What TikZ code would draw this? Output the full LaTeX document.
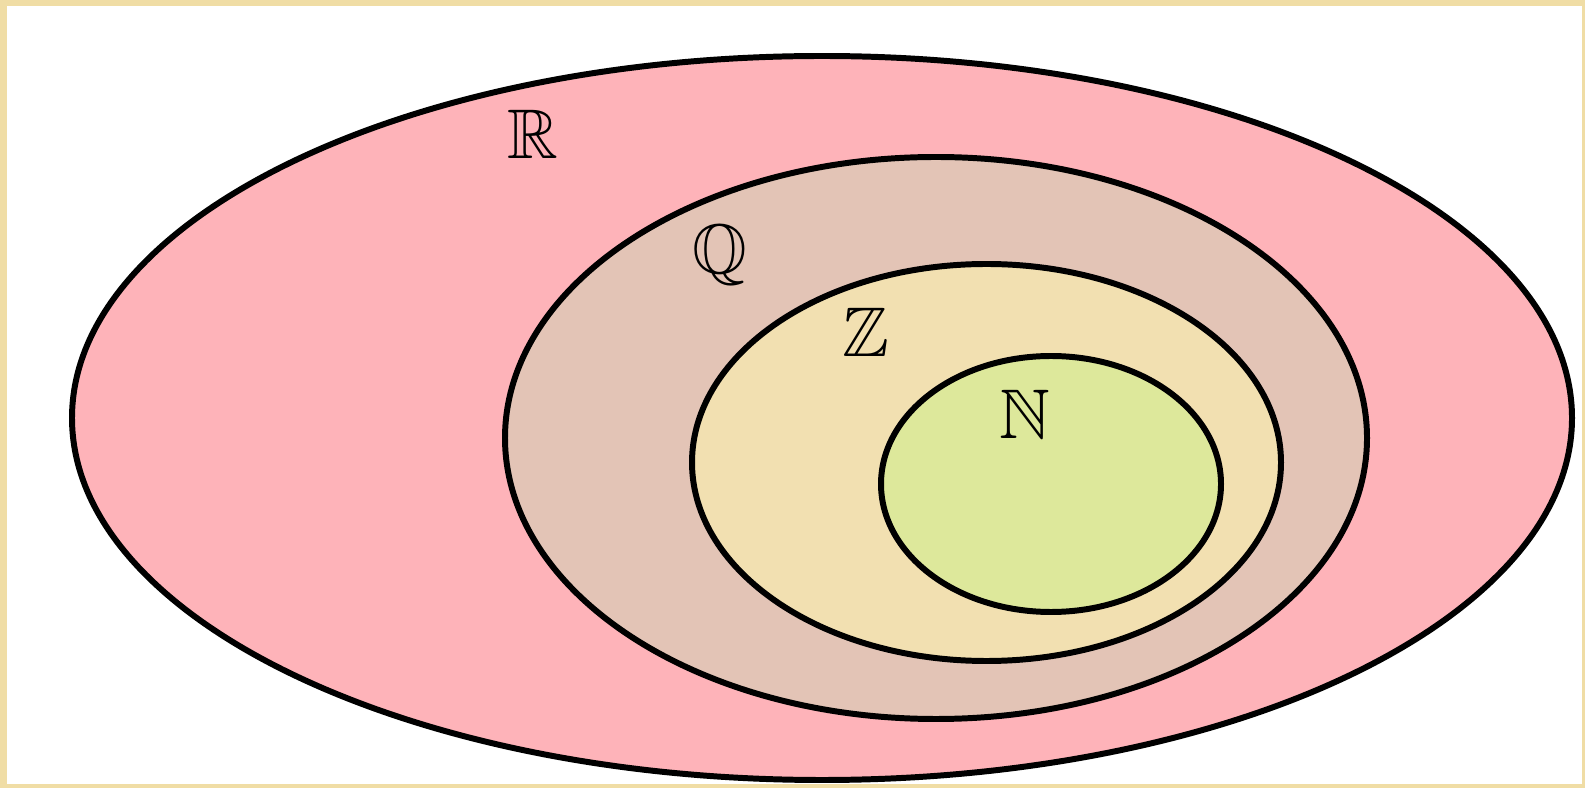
\documentclass[tikz,border=0pt]{standalone}
\usepackage{amsmath}
\usepackage{amssymb}
\usepackage{tikz}
\definecolor{framey}{RGB}{240,221,165}
\definecolor{realc}{RGB}{254,179,185}
\definecolor{ratc}{RGB}{227,196,182}
\definecolor{intc}{RGB}{242,224,177}
\definecolor{natc}{RGB}{221,232,155}
\tikzset{setline/.style={line width=1.7pt,draw=black}}
\begin{document}
\begin{tikzpicture}
\fill[framey] (0,0) rectangle (15.85,7.88);
\fill[white] (0.07,0.04) rectangle (15.82,7.82);
\draw[setline,fill=realc] (8.22,3.70) ellipse (7.50 and 3.62);
\draw[setline,fill=ratc] (9.36,3.50) ellipse (4.31 and 2.81);
\draw[setline,fill=intc] (9.865,3.255) ellipse (2.945 and 1.985);
\draw[setline,fill=natc] (10.51,3.04) ellipse (1.70 and 1.28);
\node (lblR) at (5.33,6.54) {\fontsize{20}{24}\selectfont$\mathbb{R}$};
\node (lblQ) at (7.20,5.33) {\fontsize{20}{24}\selectfont$\mathbb{Q}$};
\node (lblZ) at (8.66,4.56) {\fontsize{20}{24}\selectfont$\mathbb{Z}$};
\node (lblN) at (10.25,3.74) {\fontsize{20}{24}\selectfont$\mathbb{N}$};
\end{tikzpicture}
\end{document}
